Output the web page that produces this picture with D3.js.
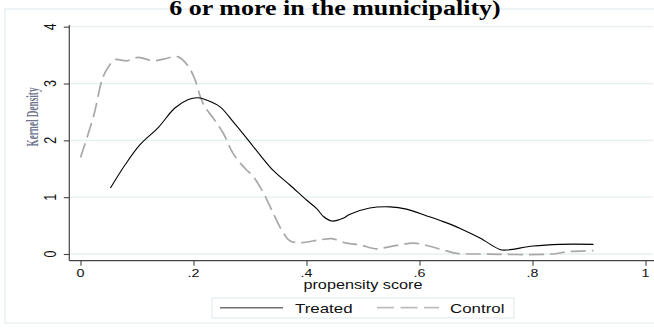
<!DOCTYPE html>
<html>
<head>
<meta charset="utf-8">
<script src="https://cdn.jsdelivr.net/npm/d3@7"></script>
<style>
html,body{margin:0;padding:0;background:#fff;}
svg{display:block;}
</style>
</head>
<body>
<svg id="chart" width="654" height="329"></svg>
<script>
// ---- data ----
const titleText = "6 or more in the municipality)";
const xTitle = "propensity score";
const yTitle = "Kernel Density";
const xTicks = [0, 0.2, 0.4, 0.6, 0.8, 1];
const xTickLabels = ["0", ".2", ".4", ".6", ".8", "1"];
const yTicks = [0, 1, 2, 3, 4];
const yTickLabels = ["0", "1", "2", "3", "4"];
const seriesNames = ["Treated", "Control"];

const treatedX = [0.053,0.079,0.105,0.138,0.167,0.191,0.208,0.223,0.247,0.270,0.294,0.318,0.341,0.371,0.400,0.418,0.430,0.445,0.465,0.477,0.512,0.548,0.577,0.613,0.642,0.672,0.707,0.742,0.754,0.801,0.849,0.908];
const treatedY = [1.16,1.57,1.92,2.23,2.57,2.72,2.75,2.71,2.59,2.33,2.04,1.74,1.47,1.21,0.95,0.80,0.66,0.58,0.63,0.70,0.81,0.83,0.79,0.67,0.57,0.45,0.28,0.08,0.07,0.14,0.17,0.17];

const controlX = [0.000,0.023,0.040,0.052,0.061,0.082,0.102,0.129,0.147,0.173,0.191,0.203,0.212,0.220,0.235,0.253,0.270,0.291,0.306,0.324,0.341,0.356,0.371,0.389,0.424,0.445,0.471,0.495,0.524,0.548,0.589,0.613,0.642,0.666,0.707,0.837,0.861,0.908];
const controlY = [1.70,2.42,3.12,3.33,3.42,3.40,3.46,3.40,3.43,3.47,3.30,3.06,2.77,2.59,2.39,2.12,1.77,1.51,1.36,1.07,0.72,0.42,0.23,0.20,0.25,0.27,0.19,0.16,0.09,0.13,0.19,0.15,0.07,0.01,0.00,0.00,0.04,0.06];

// ---- layout ----
const SX = 1.3; // horizontal stretch of text
const svg = d3.select("#chart");
const x = d3.scaleLinear().domain([0, 1]).range([80.5, 645.5]);
const y = d3.scaleLinear().domain([0, 4]).range([254, 26.7]);
const plotLeft = 69.3, plotRight = 653, axisY = 260.7;

// outer border
svg.append("rect").attr("x", 5).attr("y", 9).attr("width", 700).attr("height", 314)
  .attr("fill", "none").attr("stroke", "#e3ecee").attr("stroke-width", 1.2);

// title
svg.append("text")
  .attr("transform", `translate(335,15) scale(1.18,1)`)
  .attr("text-anchor", "middle")
  .attr("font-family", "'Liberation Serif', 'Times New Roman', serif")
  .attr("font-weight", "bold").attr("font-size", 22).attr("fill", "#000")
  .text(titleText);

// gridlines
svg.append("g").selectAll("line").data(yTicks).join("line")
  .attr("x1", plotLeft).attr("x2", plotRight)
  .attr("y1", d => y(d)).attr("y2", d => y(d))
  .attr("stroke", "#e6eff0").attr("stroke-width", 1.3);

// y axis
const yAxis = svg.append("g").attr("transform", `translate(${plotLeft},0)`)
  .call(d3.axisLeft(y).tickValues(yTicks).tickSize(5.5).tickFormat(""));
yAxis.select(".domain").remove();
yAxis.selectAll(".tick line").attr("stroke", "#444").attr("stroke-width", 1.1);
svg.append("line").attr("x1", plotLeft).attr("x2", plotLeft).attr("y1", 25).attr("y2", axisY)
  .attr("stroke", "#444").attr("stroke-width", 1.2);
svg.append("g").selectAll("text").data(yTicks).join("text")
  .attr("transform", d => `translate(56,${y(d)}) scale(${SX},1) rotate(-90)`)
  .attr("text-anchor", "middle")
  .attr("font-family", "'Liberation Sans', Arial, sans-serif").attr("font-size", 12.5)
  .attr("fill", "#111")
  .text((d, i) => yTickLabels[i]);

// x axis
const xAxis = svg.append("g").attr("transform", `translate(0,${axisY})`)
  .call(d3.axisBottom(x).tickValues(xTicks).tickSize(5).tickFormat(""));
xAxis.select(".domain").remove();
xAxis.selectAll(".tick line").attr("stroke", "#444").attr("stroke-width", 1.1);
svg.append("line").attr("x1", plotLeft).attr("x2", 654).attr("y1", axisY).attr("y2", axisY)
  .attr("stroke", "#444").attr("stroke-width", 1.2);
svg.append("g").selectAll("text").data(xTicks).join("text")
  .attr("transform", d => `translate(${x(d)},277) scale(${SX},1)`)
  .attr("text-anchor", "middle")
  .attr("font-family", "'Liberation Sans', Arial, sans-serif").attr("font-size", 11)
  .attr("fill", "#111")
  .text((d, i) => xTickLabels[i]);

// axis titles
svg.append("text")
  .attr("transform", `translate(363,288.5) scale(${SX},1)`)
  .attr("text-anchor", "middle")
  .attr("font-family", "'Liberation Sans', Arial, sans-serif").attr("font-size", 12.5)
  .attr("fill", "#111").text(xTitle);

svg.append("text")
  .attr("transform", `translate(38,117) scale(${SX},1) rotate(-90)`)
  .attr("text-anchor", "middle")
  .attr("font-family", "'Liberation Serif', 'Times New Roman', serif").attr("font-size", 13)
  .attr("font-weight", "bold")
  .attr("textLength", 59).attr("lengthAdjust", "spacingAndGlyphs")
  .attr("fill", "#56607c").attr("opacity", 0.85).text(yTitle);

// curves
const line = d3.line().x(d => x(d[0])).y(d => y(d[1])).curve(d3.curveCatmullRom.alpha(0.5));
const controlData = controlX.map((v, i) => [v, controlY[i]]);
const treatedData = treatedX.map((v, i) => [v, treatedY[i]]);

svg.append("path").datum(controlData).attr("d", line)
  .attr("fill", "none").attr("stroke", "#a8a8a8").attr("stroke-width", 1.7)
  .attr("stroke-dasharray", "15,6");
svg.append("path").datum(treatedData).attr("d", line)
  .attr("fill", "none").attr("stroke", "#000").attr("stroke-width", 1.1);

// legend
const lg = svg.append("g");
lg.append("rect").attr("x", 212).attr("y", 298).attr("width", 302).attr("height", 20)
  .attr("fill", "#fff").attr("stroke", "#e3ecee").attr("stroke-width", 1.2);
const legendItems = [
  {name: seriesNames[0], x1: 220, x2: 283, tx: 295, color: "#707070", dash: null, w: 1.6},
  {name: seriesNames[1], x1: 377, x2: 439, tx: 450, color: "#bdbdbd", dash: "17,6.5", w: 1.8}
];
legendItems.forEach(it => {
  lg.append("line").attr("x1", it.x1).attr("x2", it.x2).attr("y1", 307.7).attr("y2", 307.7)
    .attr("stroke", it.color).attr("stroke-width", it.w)
    .attr("stroke-dasharray", it.dash);
  lg.append("text").attr("transform", `translate(${it.tx},312.5) scale(${SX},1)`)
    .attr("font-family", "'Liberation Sans', Arial, sans-serif").attr("font-size", 13)
    .attr("fill", "#111").text(it.name);
});
</script>
</body>
</html>
